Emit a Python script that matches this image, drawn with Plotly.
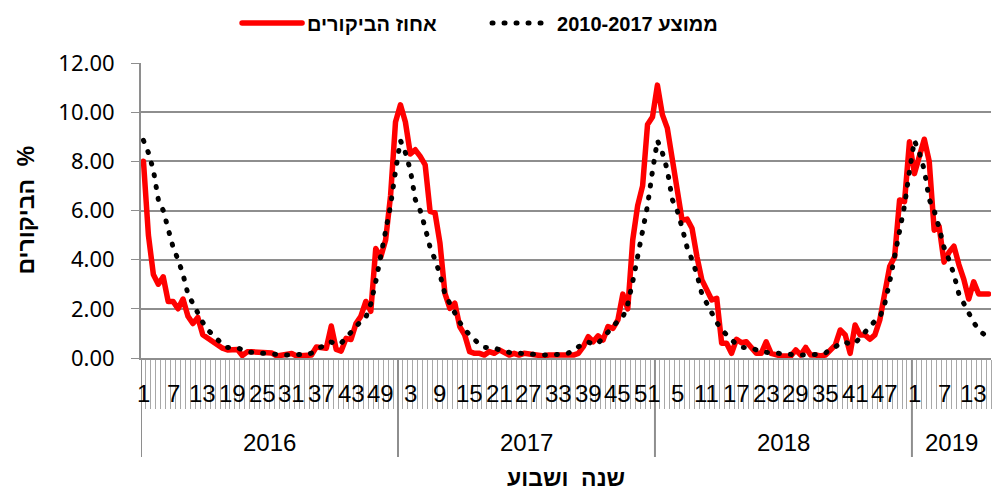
import plotly.graph_objects as go

# ---------------- data ----------------
years = [2016, 2017, 2018, 2019]
weeks_in_year = [52, 52, 52, 16]

visits_2016 = [8.0, 5.0, 3.4, 3.0, 3.3, 2.3, 2.3, 2.0, 2.4, 1.7,
               1.4, 1.65, 0.95, 0.8, 0.7, 0.55, 0.4, 0.33, 0.35, 0.35,
               0.1, 0.25, 0.25, 0.25, 0.25, 0.25, 0.2, 0.08, 0.1, 0.15,
               0.18, 0.08, 0.1, 0.12, 0.12, 0.45, 0.45, 0.4, 1.3, 0.35,
               0.28, 0.8, 0.75, 1.4, 1.7, 2.3, 1.9, 4.45, 4.1, 4.8,
               6.6, 9.6]
visits_2017 = [10.3, 9.6, 8.3, 8.47, 8.2, 7.86, 5.96, 5.9, 4.67, 2.63,
               2.02, 2.23, 1.28, 0.94, 0.26, 0.19, 0.19, 0.12, 0.26, 0.19,
               0.33, 0.22, 0.12, 0.19, 0.12, 0.19, 0.16, 0.12, 0.08, 0.08,
               0.12, 0.12, 0.08, 0.08, 0.08, 0.12, 0.19, 0.46, 0.87, 0.66,
               0.9, 0.73, 1.28, 1.2, 1.55, 2.6, 2.0, 4.8, 6.2, 7.0,
               9.5, 9.8]
visits_2018 = [11.1, 9.9, 9.35, 8.06, 7.04, 5.6, 5.65, 5.28, 4.12, 3.17,
               2.77, 2.36, 2.43, 0.6, 0.6, 0.19, 0.76, 0.62, 0.66, 0.46,
               0.19, 0.19, 0.66, 0.19, 0.12, 0.08, 0.08, 0.08, 0.33, 0.12,
               0.43, 0.12, 0.12, 0.08, 0.12, 0.33, 0.53, 1.14, 0.94, 0.19,
               1.34, 0.94, 0.94, 0.76, 0.94, 1.55, 2.63, 3.72, 4.12, 6.43,
               6.36, 8.8]
visits_2019 = [7.5, 8.3, 8.9, 8.0, 5.2, 5.35, 3.9, 4.3, 4.55, 3.8,
               3.2, 2.4, 3.1, 2.6, 2.6, 2.6]

# weekly average of 2010-2017 (same value for a given week number every year)
avg_2010_2017_by_week = [8.85, 8.35, 7.65, 6.45, 6.0, 5.3, 4.5, 4.0, 3.4, 2.6,
                         2.2, 1.85, 1.45, 1.15, 0.95, 0.8, 0.55, 0.43, 0.43, 0.42,
                         0.33, 0.25, 0.23, 0.22, 0.22, 0.2, 0.17, 0.15, 0.13, 0.12,
                         0.12, 0.12, 0.13, 0.15, 0.2, 0.36, 0.45, 0.6, 0.65, 0.55,
                         0.6, 0.82, 1.05, 1.3, 1.5, 1.65, 2.2, 3.1, 4.1, 5.2,
                         6.2, 7.6]

series_name_visits = "אחוז הביקורים"
series_name_avg = "2010-2017 ממוצע"
y_title = "הביקורים  %"
x_title = "שנה  ושבוע"
label_every = 6

# ---------------- build ----------------
visits = visits_2016 + visits_2017 + visits_2018 + visits_2019
week_nums = []
for yr, n in zip(years, weeks_in_year):
    week_nums += list(range(1, n + 1))
avg = [avg_2010_2017_by_week[w - 1] for w in week_nums]
N = len(visits)
xs = list(range(N))

GRID = "#8e8e8e"
TICK = "#a8a8a8"
AX_FONT = "Liberation Sans, Arial, sans-serif"
PLOT_H = 491 - 63 - 133

fig = go.Figure()
fig.add_trace(go.Scatter(x=xs, y=visits, mode="lines", name=series_name_visits,
                         line=dict(color="#ff0000", width=5.5)))
fig.add_trace(go.Scatter(x=xs, y=avg, mode="lines", name=series_name_avg,
                         line=dict(color="#000000", width=5, dash="1px,11px")))

annotations = []
# week labels
for i, w in enumerate(week_nums):
    if i % label_every == 0:
        annotations.append(dict(x=i, xref="x", y=0, yref="paper", yanchor="middle",
                                yshift=-35, text=str(w), showarrow=False,
                                font=dict(family=AX_FONT, size=24, color="black")))
# year labels + dividers
shapes = []
start = 0
for yr, n in zip(years, weeks_in_year):
    annotations.append(dict(x=start + (n - 1) / 2, xref="x", y=0, yref="paper",
                            yanchor="middle", yshift=-84, text=str(yr), showarrow=False,
                            font=dict(family=AX_FONT, size=24, color="black")))
    shapes.append(dict(type="line", xref="x", yref="paper", x0=start - 0.5, x1=start - 0.5,
                       y0=0, y1=-99 / PLOT_H, line=dict(color=GRID, width=2)))
    start += n

annotations.append(dict(x=0.5, xref="paper", y=0, yref="paper", yanchor="middle",
                        yshift=-120, text=x_title, showarrow=False,
                        font=dict(family=AX_FONT, size=23, color="black", weight="bold")))
annotations.append(dict(x=0, xref="paper", xanchor="center", xshift=-116, y=0.5,
                        yref="paper", yanchor="middle", textangle=-90, text=y_title,
                        showarrow=False,
                        font=dict(family=AX_FONT, size=23, color="black", weight="bold")))

fig.update_layout(
    width=993, height=491,
    margin=dict(l=141, r=2, t=63, b=133),
    paper_bgcolor="white", plot_bgcolor="white",
    showlegend=True,
    legend=dict(orientation="h", x=0.113, xanchor="left", y=1 + 40 / PLOT_H, yanchor="middle",
                itemwidth=60, entrywidth=175, entrywidthmode="pixels",
                font=dict(family=AX_FONT, size=20, color="black", weight="bold"),
                bgcolor="rgba(0,0,0,0)"),
    xaxis=dict(range=[-0.5, N - 0.5], tickmode="linear", tick0=-0.5, dtick=1,
               ticks="outside", ticklen=49, tickwidth=1, tickcolor=TICK,
               showticklabels=False, showgrid=False, zeroline=False,
               showline=True, linecolor=GRID, linewidth=2),
    yaxis=dict(range=[0, 12], tickmode="linear", tick0=0, dtick=2, tickformat=".2f",
               ticks="outside", ticklen=8, tickwidth=1, tickcolor=GRID,
               showgrid=True, gridcolor=GRID, gridwidth=2, zeroline=False,
               showline=True, linecolor=GRID, linewidth=2,
               ticklabelstandoff=12,
               tickfont=dict(family="Noto Sans, Open Sans, sans-serif", size=22, color="black")),
    annotations=annotations,
    shapes=shapes,
)

post = """
document.body.style.margin='0';
document.body.style.overflow='hidden';
document.querySelectorAll('.js-line, .legendlines path').forEach(function(p){
  p.style.strokeLinecap='round'; p.style.strokeLinejoin='round';
});
"""
fig.write_html("out.html", post_script=post, config={"displayModeBar": False})
